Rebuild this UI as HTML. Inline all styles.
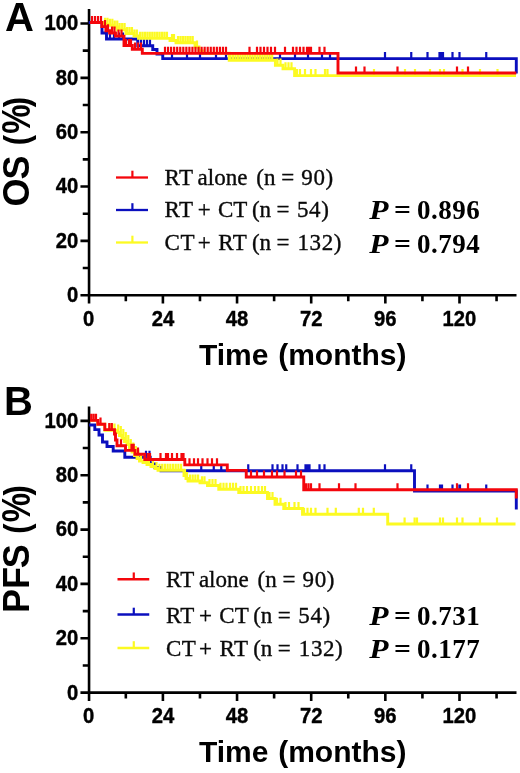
<!DOCTYPE html>
<html lang="en"><head><meta charset="utf-8"><title>Survival curves</title>
<style>html,body{margin:0;padding:0;background:#fff}svg{display:block}text{white-space:pre}</style>
</head><body>
<svg width="520" height="773" viewBox="0 0 520 773">
<rect width="520" height="773" fill="#fff"/>
<g transform="translate(0,0)">
<g stroke="#000" fill="none" stroke-width="2.6" stroke-linecap="butt">
<path d="M89.05,9 V303.60"/>
<path d="M80.45,295.20 H516.5"/>
<path d="M88.75,268.03 h-6 M88.75,240.86 h-8.3 M88.75,213.69 h-6 M88.75,186.52 h-8.3 M88.75,159.35 h-6 M88.75,132.18 h-8.3 M88.75,105.01 h-6 M88.75,77.84 h-8.3 M88.75,50.67 h-6 M88.75,23.50 h-8.3 M125.82,295.20 v6 M162.90,295.20 v8.3 M199.97,295.20 v6 M237.05,295.20 v8.3 M274.12,295.20 v6 M311.19,295.20 v8.3 M348.27,295.20 v6 M385.34,295.20 v8.3 M422.42,295.20 v6 M459.49,295.20 v8.3 M496.56,295.20 v6 "/>
</g>
<g font-family="'Liberation Sans',Arial,sans-serif" font-weight="bold" font-size="21.3px" fill="#000" stroke="#000" stroke-width="0.4">
<text transform="translate(78.15,302.10) scale(0.95,1)" text-anchor="end">0</text>
<text transform="translate(78.15,247.76) scale(0.95,1)" text-anchor="end">20</text>
<text transform="translate(78.15,193.42) scale(0.95,1)" text-anchor="end">40</text>
<text transform="translate(78.15,139.08) scale(0.95,1)" text-anchor="end">60</text>
<text transform="translate(78.15,84.74) scale(0.95,1)" text-anchor="end">80</text>
<text transform="translate(78.15,30.40) scale(0.95,1)" text-anchor="end">100</text>
<text transform="translate(88.75,325.70) scale(0.95,1)" text-anchor="middle">0</text>
<text transform="translate(162.90,325.70) scale(0.95,1)" text-anchor="middle">24</text>
<text transform="translate(237.05,325.70) scale(0.95,1)" text-anchor="middle">48</text>
<text transform="translate(311.19,325.70) scale(0.95,1)" text-anchor="middle">72</text>
<text transform="translate(385.34,325.70) scale(0.95,1)" text-anchor="middle">96</text>
<text transform="translate(459.49,325.70) scale(0.95,1)" text-anchor="middle">120</text>
</g>
<text y="365" font-family="'Liberation Sans',Arial,sans-serif" font-weight="bold" font-size="30px"><tspan x="199.0">Time</tspan><tspan x="278.2">(months)</tspan></text>
<text transform="translate(28.8,206.40) rotate(-90) scale(1,1)" font-family="'Liberation Sans',Arial,sans-serif" font-weight="bold" font-size="36px">O</text>
<text transform="translate(28.8,179.60) rotate(-90) scale(1,1)" font-family="'Liberation Sans',Arial,sans-serif" font-weight="bold" font-size="36px">S</text>
<text transform="translate(28.8,145.20) rotate(-90) scale(0.85,1)" font-family="'Liberation Sans',Arial,sans-serif" font-weight="bold" font-size="36px">(</text>
<text transform="translate(29.6,133.80) rotate(-90) scale(0.92,1.12)" font-family="'Liberation Sans',Arial,sans-serif" font-weight="bold" font-size="36px">%</text>
<text transform="translate(28.8,107.20) rotate(-90) scale(0.85,1)" font-family="'Liberation Sans',Arial,sans-serif" font-weight="bold" font-size="36px">)</text>
</g>
<text x="4.9" y="30.8" font-family="'Liberation Sans',Arial,sans-serif" font-weight="bold" font-size="40px">A</text>
<g transform="translate(0,0)" fill="none" stroke="#0b0fbe"><path d="M88.70,22.50 H102.00 V33.00 H106.50 V39.00 H137.75 V45.80 H152.75 V49.50 H157.00 V54.00 H162.75 V58.60 H516.30 V73.50" stroke-width="2.9" stroke-linejoin="miter"/><path d="M110.00,39.50 v-7.10 M114.00,39.50 v-7.10 M119.00,39.50 v-7.10 M123.00,39.50 v-7.10 M141.00,46.30 v-7.10 M144.00,46.30 v-7.10 M147.00,46.30 v-7.10 M150.00,46.30 v-7.10 M172.00,59.10 v-7.10 M187.00,59.10 v-7.10 M200.00,59.10 v-7.10 M216.00,59.10 v-7.10 M226.00,59.10 v-7.10 M280.00,59.10 v-7.10 M295.00,59.10 v-7.10 M308.00,59.10 v-7.10 M322.00,59.10 v-7.10 M330.00,59.10 v-7.10 M385.00,59.10 v-7.10 M411.25,59.10 v-7.10 M427.50,59.10 v-7.10 M439.50,59.10 v-7.10 M441.20,59.10 v-7.10 M443.00,59.10 v-7.10 M452.50,59.10 v-7.10 M459.50,59.10 v-7.10 M486.25,59.10 v-7.10 " stroke-width="2.2"/></g>
<g transform="translate(0,0)" fill="none" stroke="#fcfa22"><path d="M90.00,22.50 H103.00 V24.40 H109.00 V25.30 H113.50 V27.00 H117.50 V29.70 H126.00 V33.50 H134.00 V36.00 H138.50 V38.40 H170.00 V40.50 H176.00 V42.70 H195.00 V47.00 H199.00 V51.00 H203.00 V53.30 H229.20 V60.20 H275.40 V65.20 H283.00 V68.80 H294.60 V75.60 H516.00 V75.60" stroke-width="2.9" stroke-linejoin="miter"/><path d="M105.00,24.90 v-7.10 M107.45,24.90 v-7.10 M109.90,25.80 v-7.10 M112.35,25.80 v-7.10 M114.80,27.50 v-7.10 M117.25,27.50 v-7.10 M119.70,30.20 v-7.10 M122.15,30.20 v-7.10 M124.60,30.20 v-7.10 M127.05,34.00 v-7.10 M129.50,34.00 v-7.10 M131.95,34.00 v-7.10 M134.40,36.50 v-7.10 M136.85,36.50 v-7.10 M140.00,38.90 v-7.10 M142.45,38.90 v-7.10 M144.90,38.90 v-7.10 M147.35,38.90 v-7.10 M149.80,38.90 v-7.10 M152.25,38.90 v-7.10 M154.70,38.90 v-7.10 M157.15,38.90 v-7.10 M159.60,38.90 v-7.10 M162.05,38.90 v-7.10 M164.50,38.90 v-7.10 M166.95,38.90 v-7.10 M172.00,41.00 v-7.10 M174.00,41.00 v-7.10 M178.00,43.20 v-7.10 M180.45,43.20 v-7.10 M182.90,43.20 v-7.10 M185.35,43.20 v-7.10 M187.80,43.20 v-7.10 M190.25,43.20 v-7.10 M192.70,43.20 v-7.10 M197.00,47.50 v-7.10 M230.50,60.70 v-7.10 M232.95,60.70 v-7.10 M235.40,60.70 v-7.10 M237.85,60.70 v-7.10 M240.30,60.70 v-7.10 M242.75,60.70 v-7.10 M245.20,60.70 v-7.10 M247.65,60.70 v-7.10 M250.10,60.70 v-7.10 M252.55,60.70 v-7.10 M255.00,60.70 v-7.10 M257.45,60.70 v-7.10 M259.90,60.70 v-7.10 M262.35,60.70 v-7.10 M264.80,60.70 v-7.10 M267.25,60.70 v-7.10 M269.70,60.70 v-7.10 M272.15,60.70 v-7.10 M277.50,65.70 v-7.10 M280.50,65.70 v-7.10 M285.50,69.30 v-7.10 M288.50,69.30 v-7.10 M291.50,69.30 v-7.10 M297.00,76.10 v-7.10 M300.00,76.10 v-7.10 M305.00,76.10 v-7.10 M311.00,76.10 v-7.10 M315.50,76.10 v-7.10 M325.00,76.10 v-7.10 M327.50,76.10 v-7.10 M374.00,76.10 v-7.10 M405.00,76.10 v-7.10 M415.00,76.10 v-7.10 M430.00,76.10 v-7.10 M440.00,76.10 v-7.10 M444.00,76.10 v-7.10 M462.50,76.10 v-7.10 M480.00,76.10 v-7.10 M497.50,76.10 v-7.10 " stroke-width="2.2"/></g>
<g transform="translate(0,0)" fill="none" stroke="#f4060c"><path d="M90.00,22.50 H101.80 V26.60 H105.90 V30.80 H109.60 V33.00 H115.50 V36.10 H124.00 V45.50 H132.30 V49.20 H142.30 V53.40 H338.00 V73.00 H516.30 V73.00" stroke-width="2.9" stroke-linejoin="miter"/><path d="M92.00,23.00 v-7.10 M95.00,23.00 v-7.10 M98.00,23.00 v-7.10 M101.00,23.00 v-7.10 M105.00,27.10 v-7.10 M108.00,31.30 v-7.10 M112.00,33.50 v-7.10 M114.50,33.50 v-7.10 M118.50,36.60 v-7.10 M121.50,36.60 v-7.10 M126.00,46.00 v-7.10 M129.00,46.00 v-7.10 M131.00,46.00 v-7.10 M135.00,49.70 v-7.10 M138.00,49.70 v-7.10 M141.00,49.70 v-7.10 M165.00,53.90 v-7.10 M168.05,53.90 v-7.10 M171.10,53.90 v-7.10 M174.15,53.90 v-7.10 M177.20,53.90 v-7.10 M180.25,53.90 v-7.10 M183.30,53.90 v-7.10 M186.35,53.90 v-7.10 M189.40,53.90 v-7.10 M192.45,53.90 v-7.10 M195.50,53.90 v-7.10 M198.55,53.90 v-7.10 M201.60,53.90 v-7.10 M204.65,53.90 v-7.10 M207.70,53.90 v-7.10 M210.75,53.90 v-7.10 M213.80,53.90 v-7.10 M216.85,53.90 v-7.10 M219.90,53.90 v-7.10 M222.95,53.90 v-7.10 M226.00,53.90 v-7.10 M249.50,53.90 v-7.10 M257.00,53.90 v-7.10 M260.50,53.90 v-7.10 M264.00,53.90 v-7.10 M267.50,53.90 v-7.10 M271.00,53.90 v-7.10 M275.00,53.90 v-7.10 M285.00,53.90 v-7.10 M293.00,53.90 v-7.10 M296.50,53.90 v-7.10 M300.00,53.90 v-7.10 M303.50,53.90 v-7.10 M307.00,53.90 v-7.10 M309.00,53.90 v-7.10 M311.00,53.90 v-7.10 M319.50,53.90 v-7.10 M324.50,53.90 v-7.10 M356.00,73.50 v-7.10 M364.50,73.50 v-7.10 M397.50,73.50 v-7.10 M457.00,73.50 v-7.10 M468.00,73.50 v-7.10 " stroke-width="2.2"/></g>
<path d="M116.00,177.50 H148.00" stroke="#f4060c" stroke-width="2.3" fill="none"/>
<path d="M132.40,177.50 v-6.8" stroke="#f4060c" stroke-width="2.2" fill="none"/>
<text y="185.00" font-family="'Liberation Serif','Times New Roman',serif" font-size="23px" fill="#0a0a0a" stroke="#0a0a0a" stroke-width="0.35"><tspan x="164.60">R<tspan dx="0.5">T</tspan></tspan><tspan x="197.60">alone</tspan><tspan x="256.30">(n</tspan><tspan x="281.20">=</tspan><tspan x="301.30"><tspan letter-spacing="0.6">90)</tspan></tspan></text>
<path d="M116.00,210.00 H148.00" stroke="#0b0fbe" stroke-width="2.3" fill="none"/>
<path d="M132.40,210.00 v-6.8" stroke="#0b0fbe" stroke-width="2.2" fill="none"/>
<text y="217.30" font-family="'Liberation Serif','Times New Roman',serif" font-size="23px" fill="#0a0a0a" stroke="#0a0a0a" stroke-width="0.35"><tspan x="164.60">R<tspan dx="0.5">T</tspan></tspan><tspan x="197.80">+</tspan><tspan x="218.00">CT</tspan><tspan x="251.90">(n</tspan><tspan x="276.50">=</tspan><tspan x="297.00"><tspan letter-spacing="0.6">54)</tspan></tspan></text>
<path d="M116.00,242.50 H148.00" stroke="#fcfa22" stroke-width="2.3" fill="none"/>
<path d="M132.40,242.50 v-6.8" stroke="#fcfa22" stroke-width="2.2" fill="none"/>
<text y="249.80" font-family="'Liberation Serif','Times New Roman',serif" font-size="23px" fill="#0a0a0a" stroke="#0a0a0a" stroke-width="0.35"><tspan x="164.60">C<tspan dx="0.5">T</tspan></tspan><tspan x="197.80">+</tspan><tspan x="218.20">R<tspan dx="0.5">T</tspan></tspan><tspan x="251.90">(n</tspan><tspan x="276.50">=</tspan><tspan x="297.50"><tspan letter-spacing="0.6">132)</tspan></tspan></text>
<text transform="translate(369.20,218.50) scale(1.17,1)" font-family="'Liberation Serif','Times New Roman',serif" font-weight="bold" font-size="27px" fill="#000" font-style="italic">P</text>
<text transform="translate(393.90,218.50) scale(1.1,1)" font-family="'Liberation Serif','Times New Roman',serif" font-weight="bold" font-size="27px" fill="#000">=</text>
<text x="417.00" y="218.50" font-family="'Liberation Serif','Times New Roman',serif" font-weight="bold" font-size="27px" fill="#000" letter-spacing="0.5">0.896</text>
<text transform="translate(369.20,252.80) scale(1.17,1)" font-family="'Liberation Serif','Times New Roman',serif" font-weight="bold" font-size="27px" fill="#000" font-style="italic">P</text>
<text transform="translate(393.90,252.80) scale(1.1,1)" font-family="'Liberation Serif','Times New Roman',serif" font-weight="bold" font-size="27px" fill="#000">=</text>
<text x="417.00" y="252.80" font-family="'Liberation Serif','Times New Roman',serif" font-weight="bold" font-size="27px" fill="#000" letter-spacing="0.5">0.794</text>
<g transform="translate(0,397.4)">
<g stroke="#000" fill="none" stroke-width="2.6" stroke-linecap="butt">
<path d="M89.05,9 V303.60"/>
<path d="M80.45,295.20 H516.5"/>
<path d="M88.75,268.03 h-6 M88.75,240.86 h-8.3 M88.75,213.69 h-6 M88.75,186.52 h-8.3 M88.75,159.35 h-6 M88.75,132.18 h-8.3 M88.75,105.01 h-6 M88.75,77.84 h-8.3 M88.75,50.67 h-6 M88.75,23.50 h-8.3 M125.82,295.20 v6 M162.90,295.20 v8.3 M199.97,295.20 v6 M237.05,295.20 v8.3 M274.12,295.20 v6 M311.19,295.20 v8.3 M348.27,295.20 v6 M385.34,295.20 v8.3 M422.42,295.20 v6 M459.49,295.20 v8.3 M496.56,295.20 v6 "/>
</g>
<g font-family="'Liberation Sans',Arial,sans-serif" font-weight="bold" font-size="21.3px" fill="#000" stroke="#000" stroke-width="0.4">
<text transform="translate(78.15,302.10) scale(0.95,1)" text-anchor="end">0</text>
<text transform="translate(78.15,247.76) scale(0.95,1)" text-anchor="end">20</text>
<text transform="translate(78.15,193.42) scale(0.95,1)" text-anchor="end">40</text>
<text transform="translate(78.15,139.08) scale(0.95,1)" text-anchor="end">60</text>
<text transform="translate(78.15,84.74) scale(0.95,1)" text-anchor="end">80</text>
<text transform="translate(78.15,30.40) scale(0.95,1)" text-anchor="end">100</text>
<text transform="translate(88.75,325.70) scale(0.95,1)" text-anchor="middle">0</text>
<text transform="translate(162.90,325.70) scale(0.95,1)" text-anchor="middle">24</text>
<text transform="translate(237.05,325.70) scale(0.95,1)" text-anchor="middle">48</text>
<text transform="translate(311.19,325.70) scale(0.95,1)" text-anchor="middle">72</text>
<text transform="translate(385.34,325.70) scale(0.95,1)" text-anchor="middle">96</text>
<text transform="translate(459.49,325.70) scale(0.95,1)" text-anchor="middle">120</text>
</g>
<text y="365" font-family="'Liberation Sans',Arial,sans-serif" font-weight="bold" font-size="30px"><tspan x="199.0">Time</tspan><tspan x="278.2">(months)</tspan></text>
<text transform="translate(28.8,215.60) rotate(-90) scale(1,1)" font-family="'Liberation Sans',Arial,sans-serif" font-weight="bold" font-size="36px">PF</text>
<text transform="translate(28.8,170.90) rotate(-90) scale(1,1)" font-family="'Liberation Sans',Arial,sans-serif" font-weight="bold" font-size="36px">S</text>
<text transform="translate(28.8,136.30) rotate(-90) scale(0.85,1)" font-family="'Liberation Sans',Arial,sans-serif" font-weight="bold" font-size="36px">(</text>
<text transform="translate(29.6,124.80) rotate(-90) scale(0.92,1.12)" font-family="'Liberation Sans',Arial,sans-serif" font-weight="bold" font-size="36px">%</text>
<text transform="translate(28.8,98.10) rotate(-90) scale(0.85,1)" font-family="'Liberation Sans',Arial,sans-serif" font-weight="bold" font-size="36px">)</text>
</g>
<text x="4.1" y="415.2" font-family="'Liberation Sans',Arial,sans-serif" font-weight="bold" font-size="40px">B</text>
<g transform="translate(0,0)" fill="none" stroke="#0b0fbe"><path d="M89.20,425.00 H94.80 V429.60 H99.00 V435.00 H102.50 V442.00 H107.00 V446.50 H113.20 V451.00 H124.80 V457.30 H150.20 V464.00 H155.00 V467.50 H161.00 V470.80 H414.50 V491.00 H516.30 V509.50" stroke-width="2.9" stroke-linejoin="miter"/><path d="M146.00,457.80 v-7.10 M149.50,457.80 v-7.10 M201.25,471.30 v-7.10 M213.75,471.30 v-7.10 M221.25,471.30 v-7.10 M248.25,471.30 v-7.10 M272.50,471.30 v-7.10 M277.50,471.30 v-7.10 M282.50,471.30 v-7.10 M286.25,471.30 v-7.10 M297.50,471.30 v-7.10 M305.50,471.30 v-7.10 M307.50,471.30 v-7.10 M309.50,471.30 v-7.10 M319.50,471.30 v-7.10 M324.50,471.30 v-7.10 M385.00,471.30 v-7.10 M411.25,471.30 v-7.10 M427.50,491.50 v-7.10 M440.00,491.50 v-7.10 M442.00,491.50 v-7.10 M452.50,491.50 v-7.10 M457.50,491.50 v-7.10 M460.00,491.50 v-7.10 M486.25,491.50 v-7.10 " stroke-width="2.2"/></g>
<g transform="translate(0,0)" fill="none" stroke="#fcfa22"><path d="M90.00,420.40 H97.80 V424.20 H104.80 V430.20 H117.00 V432.50 H119.50 V435.50 H122.00 V438.50 H124.50 V441.50 H127.00 V444.50 H129.50 V448.50 H132.00 V452.00 H134.50 V455.50 H137.00 V458.50 H139.50 V461.00 H143.00 V462.50 H147.00 V464.50 H151.00 V466.50 H155.00 V468.50 H158.00 V470.30 H184.00 V475.50 H186.00 V478.50 H188.00 V481.00 H200.00 V482.80 H207.50 V485.50 H218.75 V489.30 H238.75 V492.50 H267.50 V498.50 H275.00 V504.30 H283.75 V508.50 H302.50 V514.30 H387.70 V524.00 H515.50 V524.00" stroke-width="2.9" stroke-linejoin="miter"/><path d="M109.50,430.70 v-7.10 M112.00,430.70 v-7.10 M114.50,430.70 v-7.10 M118.20,433.00 v-8.50 M120.80,436.00 v-10.00 M123.30,439.00 v-10.00 M125.80,442.00 v-10.00 M128.30,445.00 v-10.00 M130.80,449.00 v-10.00 M133.30,452.50 v-10.00 M135.80,456.00 v-10.00 M138.30,459.00 v-9.50 M141.00,461.50 v-8.50 M145.00,463.00 v-7.10 M149.00,465.00 v-7.10 M153.00,467.00 v-7.10 M156.50,469.00 v-7.10 M159.50,470.80 v-7.10 M162.20,470.80 v-7.10 M164.90,470.80 v-7.10 M167.60,470.80 v-7.10 M170.30,470.80 v-7.10 M173.00,470.80 v-7.10 M175.70,470.80 v-7.10 M178.40,470.80 v-7.10 M181.10,470.80 v-7.10 M185.00,476.00 v-7.10 M187.00,479.00 v-7.10 M190.00,481.50 v-7.10 M192.70,481.50 v-7.10 M195.40,481.50 v-7.10 M198.10,481.50 v-7.10 M202.00,483.30 v-7.10 M204.50,483.30 v-7.10 M209.50,486.00 v-7.10 M212.50,486.00 v-7.10 M215.50,486.00 v-7.10 M220.50,489.80 v-7.10 M223.50,489.80 v-7.10 M226.50,489.80 v-7.10 M230.00,489.80 v-7.10 M233.00,489.80 v-7.10 M236.00,489.80 v-7.10 M240.50,493.00 v-7.10 M243.50,493.00 v-7.10 M247.00,493.00 v-7.10 M251.00,493.00 v-7.10 M255.00,493.00 v-7.10 M258.50,493.00 v-7.10 M262.00,493.00 v-7.10 M265.00,493.00 v-7.10 M269.50,499.00 v-7.10 M272.50,499.00 v-7.10 M277.00,504.80 v-7.10 M280.50,504.80 v-7.10 M285.50,509.00 v-7.10 M289.00,509.00 v-7.10 M294.50,509.00 v-7.10 M298.50,509.00 v-7.10 M304.00,514.80 v-7.10 M307.50,514.80 v-7.10 M311.00,514.80 v-7.10 M315.50,514.80 v-7.10 M327.50,514.80 v-7.10 M335.80,514.80 v-7.10 M358.80,514.80 v-7.10 M363.00,514.80 v-7.10 M373.80,514.80 v-7.10 M404.60,524.50 v-7.10 M414.60,524.50 v-7.10 M417.00,524.50 v-7.10 M440.00,524.50 v-7.10 M443.00,524.50 v-7.10 M457.00,524.50 v-7.10 M462.50,524.50 v-7.10 M480.00,524.50 v-7.10 M497.00,524.50 v-7.10 " stroke-width="2.2"/></g>
<g transform="translate(0,0)" fill="none" stroke="#f4060c"><path d="M90.00,420.40 H97.80 V424.20 H104.80 V429.60 H114.50 V434.00 H115.50 V440.00 H117.00 V445.80 H125.50 V450.40 H135.00 V454.20 H144.80 V459.50 H184.80 V464.90 H227.30 V470.40 H246.25 V477.00 H303.75 V489.80 H516.30 V498.50" stroke-width="2.9" stroke-linejoin="miter"/><path d="M91.20,420.90 v-7.10 M93.60,420.90 v-7.10 M96.00,420.90 v-7.10 M100.50,424.70 v-7.10 M109.30,430.10 v-7.10 M111.80,430.10 v-7.10 M121.00,446.30 v-7.10 M131.50,450.90 v-7.10 M133.70,450.90 v-7.10 M138.00,454.70 v-7.10 M148.00,460.00 v-7.10 M150.00,460.00 v-7.10 M160.50,460.00 v-7.10 M166.00,460.00 v-7.10 M168.00,460.00 v-7.10 M172.00,460.00 v-7.10 M177.00,460.00 v-7.10 M181.50,460.00 v-7.10 M183.50,460.00 v-7.10 M189.50,465.40 v-7.10 M194.00,465.40 v-7.10 M198.00,465.40 v-7.10 M202.50,465.40 v-7.10 M207.50,465.40 v-7.10 M212.00,465.40 v-7.10 M217.00,465.40 v-7.10 M251.00,477.50 v-7.10 M257.00,477.50 v-7.10 M264.00,477.50 v-7.10 M272.00,477.50 v-7.10 M277.00,477.50 v-7.10 M284.50,477.50 v-7.10 M296.00,477.50 v-7.10 M301.00,477.50 v-7.10 M306.00,490.30 v-7.10 M308.50,490.30 v-7.10 M311.00,490.30 v-7.10 M319.50,490.30 v-7.10 M339.00,490.30 v-7.10 M355.50,490.30 v-7.10 M397.50,490.30 v-7.10 M457.00,490.30 v-7.10 M468.00,490.30 v-7.10 " stroke-width="2.2"/></g>
<path d="M117.50,579.25 H149.25" stroke="#f4060c" stroke-width="2.3" fill="none"/>
<path d="M133.78,579.25 v-6.8" stroke="#f4060c" stroke-width="2.2" fill="none"/>
<text y="587.00" font-family="'Liberation Serif','Times New Roman',serif" font-size="23px" fill="#0a0a0a" stroke="#0a0a0a" stroke-width="0.35"><tspan x="165.90">R<tspan dx="0.5">T</tspan></tspan><tspan x="198.90">alone</tspan><tspan x="257.60">(n</tspan><tspan x="282.50">=</tspan><tspan x="302.60"><tspan letter-spacing="0.6">90)</tspan></tspan></text>
<path d="M117.50,614.50 H149.25" stroke="#0b0fbe" stroke-width="2.3" fill="none"/>
<path d="M133.78,614.50 v-6.8" stroke="#0b0fbe" stroke-width="2.2" fill="none"/>
<text y="622.50" font-family="'Liberation Serif','Times New Roman',serif" font-size="23px" fill="#0a0a0a" stroke="#0a0a0a" stroke-width="0.35"><tspan x="165.90">R<tspan dx="0.5">T</tspan></tspan><tspan x="199.10">+</tspan><tspan x="219.30">CT</tspan><tspan x="253.20">(n</tspan><tspan x="277.80">=</tspan><tspan x="298.30"><tspan letter-spacing="0.6">54)</tspan></tspan></text>
<path d="M117.50,648.00 H149.25" stroke="#fcfa22" stroke-width="2.3" fill="none"/>
<path d="M133.78,648.00 v-6.8" stroke="#fcfa22" stroke-width="2.2" fill="none"/>
<text y="655.75" font-family="'Liberation Serif','Times New Roman',serif" font-size="23px" fill="#0a0a0a" stroke="#0a0a0a" stroke-width="0.35"><tspan x="165.90">C<tspan dx="0.5">T</tspan></tspan><tspan x="199.10">+</tspan><tspan x="219.50">R<tspan dx="0.5">T</tspan></tspan><tspan x="253.20">(n</tspan><tspan x="277.80">=</tspan><tspan x="298.80"><tspan letter-spacing="0.6">132)</tspan></tspan></text>
<text transform="translate(369.20,624.60) scale(1.17,1)" font-family="'Liberation Serif','Times New Roman',serif" font-weight="bold" font-size="27px" fill="#000" font-style="italic">P</text>
<text transform="translate(393.90,624.60) scale(1.1,1)" font-family="'Liberation Serif','Times New Roman',serif" font-weight="bold" font-size="27px" fill="#000">=</text>
<text x="417.00" y="624.60" font-family="'Liberation Serif','Times New Roman',serif" font-weight="bold" font-size="27px" fill="#000" letter-spacing="0.5">0.731</text>
<text transform="translate(369.20,658.00) scale(1.17,1)" font-family="'Liberation Serif','Times New Roman',serif" font-weight="bold" font-size="27px" fill="#000" font-style="italic">P</text>
<text transform="translate(393.90,658.00) scale(1.1,1)" font-family="'Liberation Serif','Times New Roman',serif" font-weight="bold" font-size="27px" fill="#000">=</text>
<text x="417.00" y="658.00" font-family="'Liberation Serif','Times New Roman',serif" font-weight="bold" font-size="27px" fill="#000" letter-spacing="0.5">0.177</text>
</svg>
</body></html>
